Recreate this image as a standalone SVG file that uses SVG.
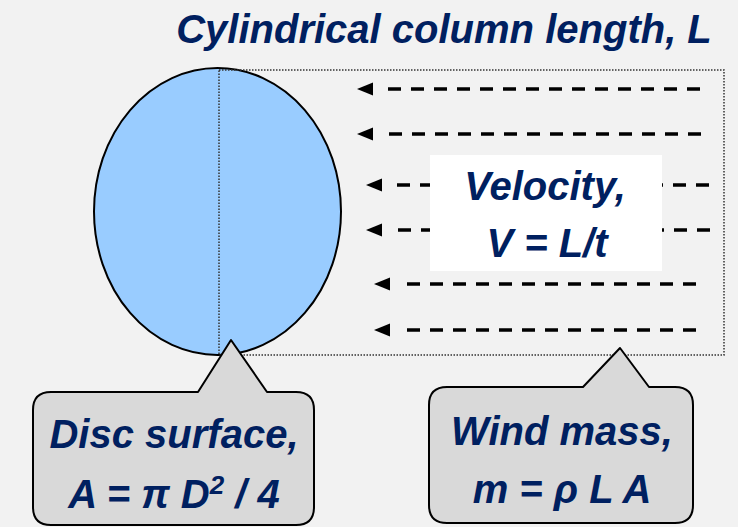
<svg xmlns="http://www.w3.org/2000/svg" width="738" height="527" viewBox="0 0 738 527">
<style>
.t{font-family:"Liberation Sans",Arial,sans-serif;font-weight:bold;font-style:italic;font-size:40px;fill:#002060;text-anchor:middle}
.flow{stroke:#000;stroke-width:3.5;stroke-dasharray:13 10;fill:none;marker-end:url(#ah)}
.call{fill:#d9d9d9;stroke:#000;stroke-width:2;stroke-linejoin:round}
.dot{fill:none;stroke:#333;stroke-width:1.5;stroke-dasharray:1.5 1.5}
</style>
<defs>
<marker id="ah" markerUnits="userSpaceOnUse" markerWidth="16" markerHeight="13" refX="-9" refY="6.5" orient="auto" overflow="visible">
<path d="M0,0 L16,6.5 L0,13 Z" fill="#000"/>
</marker>
</defs>
<rect width="738" height="527" fill="#f2f2f2"/>
<g id="title"><text class="t" x="444" y="43">Cylindrical column length, L</text></g>
<g id="disc"><ellipse cx="217.5" cy="211.5" rx="123.5" ry="143.5" fill="#99ccff" stroke="#000" stroke-width="2"/></g>
<g id="column"><path class="dot" d="M219,70 H724 V355 H219 Z"/></g>
<g id="connectors">
<line class="flow" x1="700" y1="89" x2="382" y2="89"/>
<line class="flow" x1="701" y1="134" x2="382" y2="134"/>
<line class="flow" x1="709" y1="185" x2="391" y2="185"/>
<line class="flow" x1="710" y1="230" x2="391" y2="230"/>
<line class="flow" x1="696" y1="284" x2="399" y2="284"/>
<line class="flow" x1="696" y1="330" x2="399" y2="330"/>
</g>
<g id="velocity">
<rect x="430" y="155" width="232" height="116" fill="#fff"/>
<text class="t" x="545" y="200">Velocity,</text>
<text class="t" x="547" y="257">V = L/t</text>
</g>
<g id="disc-callout">
<path class="call" d="M51,392 H198 L231,340 L267,392 H296 Q314,392 314,410 V507 Q314,525 296,525 H51 Q33,525 33,507 V410 Q33,392 51,392 Z"/>
<text class="t" x="174" y="448">Disc surface,</text>
<text class="t" x="174" y="508">A = π D<tspan font-size="26" dy="-14">2</tspan><tspan dy="14"> / 4</tspan></text>
</g>
<g id="mass-callout">
<path class="call" d="M447,387 H583 L620,348 L649,387 H675 Q693,387 693,405 V505 Q693,523 675,523 H447 Q429,523 429,505 V405 Q429,387 447,387 Z"/>
<text class="t" x="562" y="445">Wind mass,</text>
<text class="t" x="562" y="503">m = ρ L A</text>
</g>
</svg>
